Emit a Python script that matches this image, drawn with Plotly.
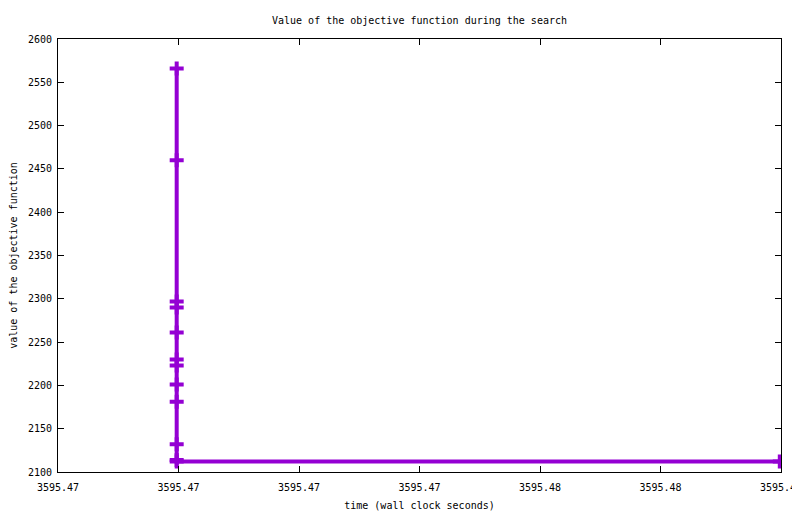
import plotly.graph_objects as go

# objective value over wall-clock time
time_s = [3595.46997, 3595.46997, 3595.46997, 3595.46997, 3595.46997, 3595.46997,
          3595.46997, 3595.46997, 3595.46997, 3595.46997, 3595.46997, 3595.46997,
          3595.47998]
objective = [2566, 2460, 2297, 2290, 2261, 2230, 2223, 2201, 2181, 2132, 2114, 2112,
             2112]

x_ticks = [3595.468, 3595.470, 3595.472, 3595.474, 3595.476, 3595.478, 3595.480]
x_labels = ["3595.47", "3595.47", "3595.47", "3595.47", "3595.48", "3595.48", "3595.48"]
y_ticks = [2100, 2150, 2200, 2250, 2300, 2350, 2400, 2450, 2500, 2550, 2600]

FONT = "DejaVu Sans Mono"
COLOR = "#9400D3"

fig = go.Figure()
fig.add_trace(go.Scatter(
    x=time_s, y=objective, mode="lines+markers",
    line=dict(color=COLOR, width=4),
    marker=dict(symbol="cross-thin", size=10, line=dict(color=COLOR, width=4)),
    showlegend=False,
))

axis_style = dict(
    showline=True, linecolor="black", linewidth=1, mirror="ticks",
    ticks="inside", ticklen=6, tickcolor="black", showgrid=False, zeroline=False,
    tickfont=dict(family=FONT, size=10, color="black"),
)
fig.update_xaxes(
    range=[3595.468, 3595.480], tickvals=x_ticks, ticktext=x_labels,
    ticklabelstandoff=6,
    title=dict(text="time (wall clock seconds)", font=dict(family=FONT, size=10, color="black"),
               standoff=9),
    **axis_style)
fig.update_yaxes(
    range=[2100, 2600], tickvals=y_ticks,
    ticklabelstandoff=3,
    title=dict(text="value of the objective function", font=dict(family=FONT, size=10, color="black"),
               standoff=11),
    **axis_style)

# the page puts the plot 8px in from the top-left corner
fig.update_layout(
    width=800, height=506,
    margin=dict(l=50, r=27, t=31, b=42, autoexpand=False),
    paper_bgcolor="white", plot_bgcolor="white",
    title=dict(text="Value of the objective function during the search",
               font=dict(family=FONT, size=10, color="black"),
               x=(50 + 773) / 2 / 800, xanchor="center",
               yref="container", y=1 - 12 / 506, yanchor="middle"),
)

fig.write_html("out.html")
